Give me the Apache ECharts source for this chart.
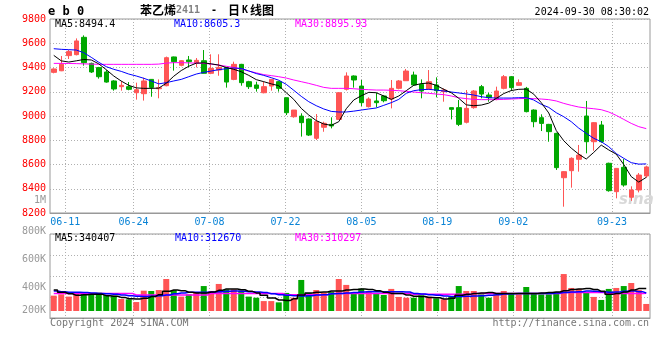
<!DOCTYPE html>
<html><head><meta charset="utf-8">
<script src="https://cdn.jsdelivr.net/npm/echarts@6/dist/echarts.min.js"></script>
<style>html,body{margin:0;padding:0;background:#fff}#c{width:660px;height:360px}</style>
</head><body><div id="c"></div>
<script>
const dates = ['06-06','06-07','06-11','06-12','06-13','06-14','06-17','06-18','06-19','06-20','06-21','06-24','06-25','06-26','06-27','06-28','07-01','07-02','07-03','07-04','07-05','07-08','07-09','07-10','07-11','07-12','07-15','07-16','07-17','07-18','07-19','07-22','07-23','07-24','07-25','07-26','07-29','07-30','07-31','08-01','08-02','08-05','08-06','08-07','08-08','08-09','08-12','08-13','08-14','08-15','08-16','08-19','08-20','08-21','08-22','08-23','08-26','08-27','08-28','08-29','08-30','09-02','09-03','09-04','09-05','09-06','09-09','09-10','09-11','09-12','09-13','09-18','09-19','09-20','09-23','09-24','09-25','09-26','09-27','09-30'];
const dateLabels = ['06-11','06-24','07-08','07-22','08-05','08-19','09-02','09-23'];
const opens  = [9360,9373,9498,9506,9649,9434,9399,9363,9289,9242,9242,9192,9184,9302,9225,9250,9487,9418,9462,9437,9456,9352,9379,9399,9302,9426,9283,9256,9192,9247,9283,9151,8994,8999,8975,8816,8907,8931,8972,9220,9330,9247,9077,9124,9165,9140,9228,9291,9338,9261,9223,9256,9200,9069,9069,8948,9069,9242,9173,9137,9228,9324,9253,9228,9049,8986,8931,8857,8491,8549,8643,9000,8788,8926,8610,8376,8577,8330,8390,8505];
const closes = [9388,9427,9531,9619,9440,9363,9324,9280,9223,9253,9220,9217,9289,9236,9233,9481,9448,9456,9448,9459,9352,9393,9401,9280,9426,9275,9242,9228,9242,9302,9228,9027,9049,8945,8843,8953,8940,8918,9192,9330,9297,9110,9140,9110,9126,9228,9289,9371,9256,9206,9283,9209,9214,9055,8931,9063,9206,9181,9151,9206,9324,9234,9275,9036,8953,8939,8871,8574,8541,8651,8678,8788,8945,8788,8384,8568,8431,8390,8513,8580];
const lows   = [9352,9370,9470,9500,9415,9355,9308,9275,9209,9209,9212,9135,9127,9159,9146,9245,9374,9410,9401,9401,9350,9345,9332,9234,9295,9250,9223,9201,9187,9209,9201,9008,8986,8830,8835,8802,8870,8898,8967,9210,9234,9082,9070,9071,9113,9063,9220,9290,9250,9146,9220,9154,9118,8972,8917,8939,9060,9146,9118,9130,9220,9206,9250,9030,8907,8876,8788,8555,8252,8409,8541,8692,8714,8780,8376,8321,8417,8300,8370,8490];
const highs  = [9393,9495,9545,9640,9665,9440,9405,9379,9295,9289,9280,9275,9316,9305,9302,9490,9490,9460,9495,9478,9544,9509,9509,9405,9448,9430,9290,9283,9283,9305,9290,9151,9049,9022,8980,9016,8953,8989,9195,9360,9335,9297,9154,9192,9170,9297,9297,9388,9366,9302,9379,9319,9228,9069,9132,9214,9214,9256,9192,9242,9338,9330,9302,9240,9055,9014,8935,8862,8545,8659,8761,9124,8950,8959,8615,8570,8645,8420,8530,8590];
const ma5  = [9500,9455,9445,9455,9466,9462,9430,9382,9330,9288,9253,9232,9228,9228,9230,9270,9328,9375,9410,9436,9438,9430,9420,9400,9385,9365,9335,9300,9283,9265,9250,9192,9137,9063,9008,8962,8934,8923,8953,9060,9132,9167,9195,9192,9165,9137,9165,9209,9253,9267,9272,9253,9220,9192,9146,9092,9085,9090,9106,9145,9185,9210,9220,9222,9180,9110,9025,8880,8796,8735,8685,8645,8700,8760,8720,8685,8600,8500,8455,8494];
const ma10 = [9555,9550,9547,9544,9522,9484,9443,9407,9385,9368,9346,9330,9311,9289,9265,9275,9289,9302,9324,9346,9360,9371,9382,9390,9396,9392,9372,9350,9335,9316,9295,9261,9212,9162,9118,9085,9058,9038,9033,9033,9040,9049,9058,9066,9088,9110,9137,9187,9209,9217,9220,9214,9206,9198,9190,9182,9173,9159,9151,9148,9148,9148,9151,9151,9132,9096,9071,9027,8994,8953,8900,8857,8816,8788,8747,8690,8651,8615,8603,8605];
const ma30 = [9434,9434,9433,9432,9430,9428,9426,9426,9426,9426,9426,9426,9426,9426,9428,9436,9440,9440,9438,9436,9434,9428,9420,9410,9400,9388,9370,9356,9341,9333,9324,9313,9297,9283,9269,9253,9236,9228,9228,9228,9225,9220,9217,9214,9214,9212,9209,9203,9198,9192,9187,9181,9176,9165,9151,9143,9137,9135,9135,9135,9137,9140,9143,9146,9143,9140,9135,9124,9104,9088,9074,9066,9060,9052,9033,9005,8972,8939,8912,8896];
const volumes = [296000,304000,290000,310000,306000,310000,315000,300000,296000,275000,273000,256000,327000,325000,331000,400000,331000,290000,304000,315000,356000,325000,369000,335000,335000,327000,290000,283000,262000,262000,254000,313000,283000,394000,313000,331000,315000,321000,400000,363000,315000,340000,325000,310000,300000,338000,288000,283000,283000,298000,290000,279000,273000,290000,356000,325000,325000,304000,283000,304000,325000,310000,304000,350000,310000,304000,304000,319000,431000,344000,338000,313000,288000,269000,338000,344000,356000,375000,331000,244000];
const volMa5  = [331000,317000,308000,298000,302000,304000,304000,296000,292000,285000,277000,275000,279000,290000,302000,323000,331000,327000,317000,313000,313000,319000,329000,338000,338000,333000,323000,313000,298000,281000,269000,265000,277000,300000,313000,317000,319000,325000,325000,331000,335000,338000,335000,327000,317000,310000,310000,300000,292000,290000,285000,283000,275000,279000,298000,304000,310000,313000,315000,310000,310000,310000,310000,310000,310000,313000,315000,319000,327000,335000,338000,340000,335000,323000,304000,310000,319000,331000,340000,340407];
const volMa10 = [325000,321000,317000,317000,315000,313000,310000,308000,304000,300000,296000,292000,290000,292000,296000,300000,308000,313000,317000,317000,317000,319000,321000,323000,325000,323000,321000,319000,315000,308000,302000,298000,296000,294000,296000,300000,302000,308000,310000,313000,315000,319000,321000,321000,321000,321000,321000,319000,310000,306000,302000,298000,294000,290000,290000,292000,294000,296000,298000,302000,306000,308000,310000,310000,310000,310000,310000,313000,315000,319000,321000,325000,323000,321000,317000,319000,323000,325000,321000,312670];
const volMa30 = [310000,310000,310000,310000,310000,310000,310000,310000,310000,310000,310000,300000,300000,300000,300000,300000,300000,300000,300000,300000,300000,310000,310000,310000,310000,310000,310000,310000,310000,310000,310000,302000,302000,302000,302000,302000,302000,310000,310000,310000,310000,310000,310000,310000,310000,310000,310000,310000,304000,304000,304000,304000,304000,304000,304000,304000,310000,310000,310000,310000,310000,310000,310000,310000,310000,310000,310000,310000,315000,315000,315000,315000,315000,315000,310000,310000,310000,310000,310000,310297];
const volTickLabels = ['200K','400K','600K','800K'];

const MONO = 'DejaVu Sans Mono';
const UP = '#ff5555', DOWN = '#00a800';
const labelIdx = dateLabels.map(d => dates.indexOf(d));
const showAt = (i) => labelIdx.indexOf(i) >= 0;
const dotted = {color: '#b0b0b0', width: 1, type: [1, 2]};

const chart = echarts.init(document.getElementById('c'), null, {renderer: 'canvas'});
const t = (text, pos, color, extra) => Object.assign({
  text: text, padding: 0, itemGap: 0,
  textStyle: Object.assign({fontFamily: MONO, fontSize: 10, fontWeight: 'normal', color: color, lineHeight: 12}, extra || {})
}, pos);

chart.setOption({
  animation: false,
  backgroundColor: '#fff',
  title: [
    t('e b 0', {left: 48, top: 4}, '#000', {fontSize: 12, fontWeight: 'bold', lineHeight: 16}),
    {
      text: '{a|苯乙烯}{b|2411}{c|-}{a|日}{k|K}{a|线图}', left: 140, top: 3, padding: 0,
      textStyle: {rich: {
        a: {fontFamily: 'Noto Sans CJK SC', fontSize: 12, color: '#000', lineHeight: 14},
        b: {fontFamily: MONO, fontSize: 10, color: '#808080', lineHeight: 14},
        c: {fontFamily: MONO, fontSize: 10, color: '#000', width: 28, align: 'center', lineHeight: 14},
        k: {fontFamily: MONO, fontSize: 10, color: '#000', fontWeight: 'bold', width: 10, align: 'center', lineHeight: 14}
      }}
    },
    t('2024-09-30 08:30:02', {right: 11, top: 6}, '#000'),
    t('MA5:8494.4', {left: 55, top: 18}, '#000'),
    t('MA10:8605.3', {left: 174, top: 18}, '#0000ff'),
    t('MA30:8895.93', {left: 295, top: 18}, '#ff00ff'),
    t('1M', {right: 614, top: 194}, '#999'),
    t('MA5:340407', {left: 55, top: 232}, '#000'),
    t('MA10:312670', {left: 175, top: 232}, '#0000ff'),
    t('MA30:310297', {left: 295, top: 232}, '#ff00ff'),
    t('Copyright 2024 SINA.COM', {left: 50, top: 317}, '#777'),
    t('http://finance.sina.com.cn', {right: 11, top: 317}, '#777'),
    Object.assign(t('sina', {left: 619, top: 192}, '#d8d8d8', {fontFamily: 'DejaVu Sans', fontSize: 15, fontStyle: 'italic', fontWeight: 'bold', lineHeight: 16}), {z: 0})
  ],
  grid: [
    {left: 50, width: 600, top: 19, height: 194, show: true, borderColor: '#999', borderWidth: 1},
    {left: 50, width: 600, top: 234, height: 77, show: false},
    {left: 50, width: 600, top: 234, height: 84, show: true, borderColor: '#999', borderWidth: 1}
  ],
  xAxis: [
    {gridIndex: 0, type: 'category', data: dates, boundaryGap: true, position: 'top', show: false},
    {gridIndex: 0, type: 'category', data: dates, boundaryGap: false, position: 'bottom',
      axisLine: {show: true, lineStyle: {color: '#999'}}, axisTick: {show: false},
      axisLabel: {interval: showAt, color: '#0b84d6', fontFamily: MONO, fontSize: 10, margin: 3, lineHeight: 12},
      splitLine: {show: true, interval: showAt, lineStyle: dotted}},
    {gridIndex: 1, type: 'category', data: dates, boundaryGap: true, show: false},
    {gridIndex: 2, type: 'category', data: dates, boundaryGap: false, position: 'bottom',
      axisLine: {show: true, lineStyle: {color: '#999'}}, axisTick: {show: false}, axisLabel: {show: false},
      splitLine: {show: true, interval: showAt, lineStyle: dotted}}
  ],
  yAxis: [
    {gridIndex: 0, type: 'value', min: 8200, max: 9800, interval: 200, position: 'left',
      axisLine: {show: false}, axisTick: {show: false},
      axisLabel: {color: '#ff0000', fontFamily: MONO, fontSize: 10, margin: 4, padding: [0, 0, 4, 0],
        formatter: (v) => String(v)},
      splitLine: {show: true, lineStyle: dotted}},
    {gridIndex: 1, type: 'value', min: 200000, max: 681250, show: false},
    {gridIndex: 2, type: 'value', min: 200000, max: 800000, interval: 200000, position: 'left',
      axisLine: {show: false}, axisTick: {show: false}, splitLine: {show: false},
      axisLabel: {color: '#999', fontFamily: MONO, fontSize: 10, margin: 4,
        formatter: (v) => {
          const s = volTickLabels[Math.round((v - 200000) / 200000)];
          return v === 200000 ? '{lo|' + s + '}' : '{n|' + s + '}';
        },
        rich: {n: {padding: [0, 0, 5, 0], fontFamily: MONO, fontSize: 10, color: '#999'},
               lo: {padding: [0, 0, 15, 0], fontFamily: MONO, fontSize: 10, color: '#999'}}}},
    {gridIndex: 2, type: 'value', min: 0, max: 4, interval: 1, position: 'right',
      axisLine: {show: false}, axisTick: {show: false}, axisLabel: {show: false},
      splitLine: {show: true, lineStyle: dotted}}
  ],
  series: [
    {type: 'candlestick', xAxisIndex: 0, yAxisIndex: 0, barWidth: 5,
      data: dates.map((d, i) => [opens[i], closes[i], lows[i], highs[i]]),
      itemStyle: {color: UP, color0: DOWN, borderColor: UP, borderColor0: DOWN, borderWidth: 1}},
    {type: 'line', name: 'MA30', xAxisIndex: 0, yAxisIndex: 0, data: ma30, symbol: 'none', z: 3,
      lineStyle: {color: '#ff00ff', width: 1}},
    {type: 'line', name: 'MA10', xAxisIndex: 0, yAxisIndex: 0, data: ma10, symbol: 'none', z: 3,
      lineStyle: {color: '#0000ff', width: 1}},
    {type: 'line', name: 'MA5', xAxisIndex: 0, yAxisIndex: 0, data: ma5, symbol: 'none', z: 3,
      lineStyle: {color: '#000000', width: 1}},
    {type: 'bar', xAxisIndex: 2, yAxisIndex: 1, barWidth: 6,
      data: volumes.map((v, i) => ({value: v, itemStyle: {color: closes[i] >= opens[i] ? UP : DOWN}}))},
    {type: 'line', xAxisIndex: 2, yAxisIndex: 1, data: volMa30, symbol: 'none', step: 'middle', z: 3,
      lineStyle: {color: '#ff00ff', width: 1.5}},
    {type: 'line', xAxisIndex: 2, yAxisIndex: 1, data: volMa10, symbol: 'none', step: 'middle', z: 3,
      lineStyle: {color: '#0000ff', width: 1.5}},
    {type: 'line', xAxisIndex: 2, yAxisIndex: 1, data: volMa5, symbol: 'none', step: 'middle', z: 3,
      lineStyle: {color: '#000000', width: 1.5}}
  ]
});
</script></body></html>
